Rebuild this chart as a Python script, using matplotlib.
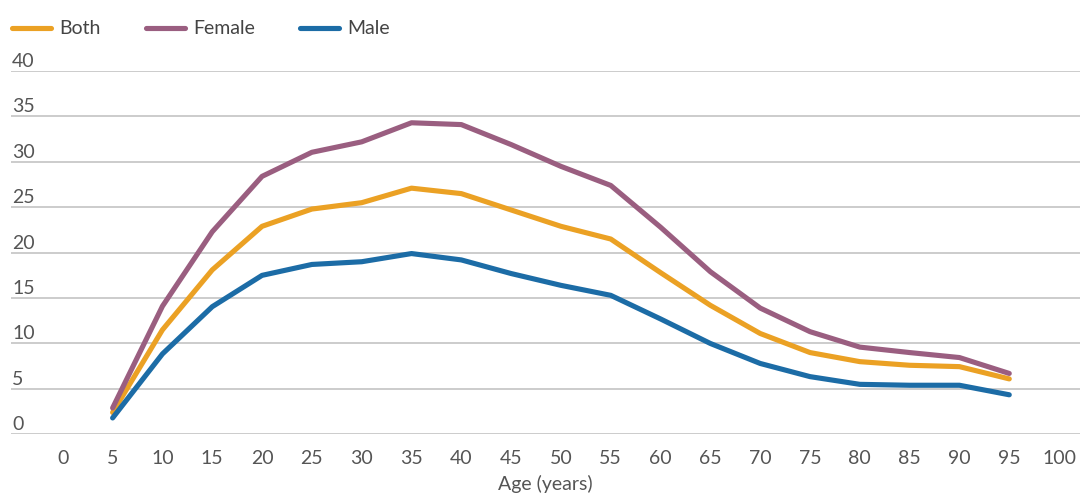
import matplotlib
matplotlib.use("Agg")
import matplotlib.pyplot as plt
from matplotlib.lines import Line2D
from matplotlib.transforms import offset_copy

ages = [5, 10, 15, 20, 25, 30, 35, 40, 45, 50, 55, 60, 65, 70, 75, 80, 85, 90, 95]
both = [2.4, 11.5, 18.1, 22.9, 24.8, 25.5, 27.1, 26.5, 24.7, 22.9, 21.5, 17.8, 14.2, 11.1, 9.0, 8.0, 7.6, 7.45, 6.1]
female = [2.9, 14.1, 22.3, 28.4, 31.05, 32.2, 34.3, 34.1, 31.9, 29.5, 27.4, 22.8, 17.9, 13.9, 11.3, 9.6, 9.0, 8.45, 6.7]
male = [1.8, 8.85, 14.05, 17.5, 18.7, 19.0, 19.9, 19.2, 17.7, 16.4, 15.3, 12.7, 10.0, 7.8, 6.35, 5.5, 5.4, 5.4, 4.35]
series_names = ["Both", "Female", "Male"]
colors = ["#EBA124", "#9A5E80", "#1C6CA6"]
xticks = list(range(0, 101, 5))
yticks = list(range(0, 41, 5))

plt.rcParams['font.family'] = ['Lato', 'DejaVu Sans']
W, H = 1084, 497
fig = plt.figure(figsize=(W / 100, H / 100), dpi=100)
left, right = 11 / W, 1080 / W
bottom, top = 1 - 434.3 / H, 1 - 71 / H
ax = fig.add_axes([left, bottom, right - left, top - bottom])

for vals, c in zip([both, female, male], colors):
    ax.plot(ages, vals, color=c, lw=3.7, solid_capstyle='round', solid_joinstyle='round', clip_on=False, zorder=3)

ax.set_xlim(-5.2, 102.1)
ax.set_ylim(0, 40)
for s in ax.spines.values():
    s.set_visible(False)
ax.set_yticks(yticks)
ax.set_yticklabels([])
ax.tick_params(axis='y', length=0)
ax.grid(axis='y', color='#cccccc', lw=1.4, zorder=0)
ax.set_xticks(xticks)
ax.set_xticklabels([str(t) for t in xticks], fontsize=14, color='#555555')
ax.tick_params(axis='x', length=0, pad=11)

ytrans = ax.get_yaxis_transform()
for v in yticks:
    ax.text(0.0, v, str(v), transform=offset_copy(ytrans, fig=fig, x=1, y=4, units='dots'),
            ha='left', va='baseline', fontsize=14, color='#555555')

ax.set_xlabel("Age (years)", fontsize=14, color='#555555', labelpad=6)

handles = [Line2D([0], [0], color=c, lw=3.7, solid_capstyle='round') for c in colors]
leg = fig.legend(handles, series_names, loc='center left', bbox_to_anchor=(12 / W, 1 - 29 / H),
                 ncol=3, frameon=False, fontsize=14, handlelength=2.0, handletextpad=0.45,
                 columnspacing=2.3, borderaxespad=0.0, borderpad=0.0)
for t in leg.get_texts():
    t.set_color('#444444')

fig.savefig("out.png", dpi=100)
